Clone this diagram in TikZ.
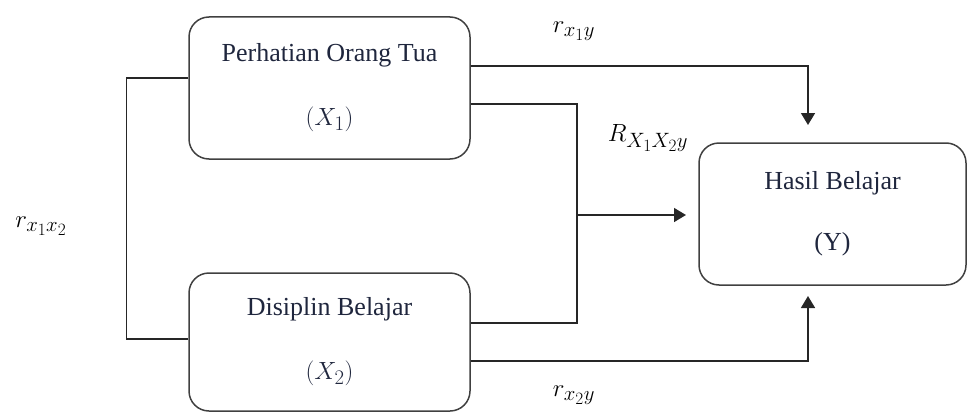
\documentclass[tikz,border=0pt]{standalone}
\usepackage{fontspec}
\setmainfont{Liberation Serif}
\usetikzlibrary{arrows.meta}
\DeclareMathSizes{28}{28}{21}{16}
\DeclareMathSizes{26}{27}{20}{15}
\definecolor{txt}{rgb}{0.12,0.15,0.24}
\definecolor{edge}{rgb}{0.25,0.25,0.25}
\tikzset{
  box/.style={draw=edge, line width=1.5pt, rounded corners=20pt, align=center,
    text=txt, font=\fontsize{26}{64}\selectfont, inner sep=0pt},
  conn/.style={draw=black!85, line width=1.5pt},
  arr/.style={conn, -{Triangle[width=14pt,length=12pt]}},
  lab/.style={font=\fontsize{28}{30}\selectfont, inner sep=0pt}
}
\begin{document}
\begin{tikzpicture}[x=1pt,y=-1pt]
\useasboundingbox (0,0) rectangle (968,412);
\node[box, minimum width=281pt, minimum height=142pt] (b1) at (329.5,88) {Perhatian Orang Tua\\$(X_1)$};
\node[box, minimum width=281pt, minimum height=138pt] (b2) at (329.5,342) {Disiplin Belajar\\$(X_2)$};
\node[box, minimum width=267pt, minimum height=142pt, font=\fontsize{26}{61}\selectfont] (y) at (832.5,214) {Hasil Belajar\\(Y)};
% coordinates
\coordinate (t1) at (808,125);
\coordinate (t2) at (808,296);
\coordinate (j) at (577,215);
\coordinate (a3) at (686,215);
\coordinate (e1) at ([yshift=22pt]b1.east);
\coordinate (e1b) at ([yshift=-16pt]b1.east);
\coordinate (e2) at ([yshift=19pt]b2.east);
\coordinate (e3) at ([yshift=-19pt]b2.east);
\coordinate (w1) at ([yshift=10pt]b1.west);
\coordinate (w2) at ([yshift=3pt]b2.west);
% connectors
\draw[arr] (e1) -| (t1);
\draw[conn] (e1b) -| (j) |- (e2);
\draw[arr] (j) -- (a3);
\draw[arr] (e3) -| (t2);
\draw[conn] (w1) -- ++(-62,0) |- (w2);
% labels
\node[lab] (l1) at (574,31) {$r_{x_1y}$};
\node[lab] (l2) at (648,138) {$R_{X_1X_2y}$};
\node[lab] (l3) at (41,226) {$r_{x_1x_2}$};
\node[lab] (l4) at (574,395) {$r_{x_2y}$};
\end{tikzpicture}
\end{document}
